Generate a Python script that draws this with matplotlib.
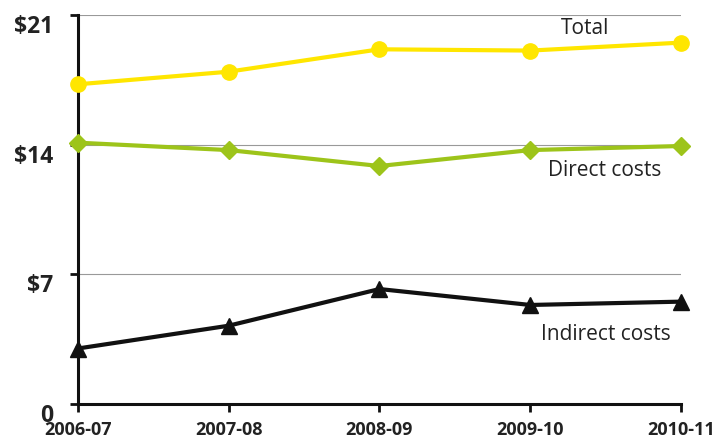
import matplotlib.pyplot as plt

years = ['2006-07', '2007-08', '2008-09', '2009-10', '2010-11']
total = [17.26, 17.94, 19.15, 19.08, 19.51]
direct_costs = [14.11, 13.71, 12.85, 13.71, 13.93]
indirect_costs = [3.0, 4.23, 6.21, 5.35, 5.53]
y_ticks = [0, 7, 14, 21]
y_labels = ['0', '$7', '$14', '$21']

plt.rcParams['font.family'] = ['Open Sans', 'DejaVu Sans']

fig = plt.figure(figsize=(7.2, 4.48), dpi=100)
ax = fig.add_axes([0.108, 0.098, 0.838, 0.8685])

x = list(range(len(years)))
ax.plot(x, total, color='#FFE600', lw=3, marker='o', ms=11, clip_on=False, zorder=3)
ax.plot(x, direct_costs, color='#9DC41A', lw=3, marker='D', ms=9, clip_on=False, zorder=3)
ax.plot(x, indirect_costs, color='#111111', lw=3, marker='^', ms=11, clip_on=False, zorder=3)

for v in y_ticks[1:]:
    ax.axhline(v, color='#999999', lw=0.8, zorder=1)

ax.set_xlim(0, len(years) - 1)
ax.set_ylim(0, 21)
ax.set_xticks(x)
ax.set_xticklabels(years, fontsize=13, fontweight='bold')
ax.set_yticks(y_ticks)
ax.set_yticklabels(y_labels, fontsize=16.5, fontweight='bold')
for lab in ax.get_yticklabels():
    lab.set_verticalalignment('top')

for side in ['top', 'right']:
    ax.spines[side].set_visible(False)
for side in ['left', 'bottom']:
    ax.spines[side].set_linewidth(2.2)
    ax.spines[side].set_color('#111111')
ax.tick_params(axis='y', length=6, width=2, pad=12, colors='#111111')
ax.tick_params(axis='x', length=6, width=2, pad=6, colors='#111111')
for lab in ax.get_xticklabels() + ax.get_yticklabels():
    lab.set_color('#222222')

ax.text(3.2, 20.25, 'Total', fontsize=15, color='#222222', va='center')
ax.text(3.12, 12.63, 'Direct costs', fontsize=15, color='#222222', va='center')
ax.text(3.07, 3.78, 'Indirect costs', fontsize=15, color='#222222', va='center')

fig.savefig('out.png', dpi=100)
